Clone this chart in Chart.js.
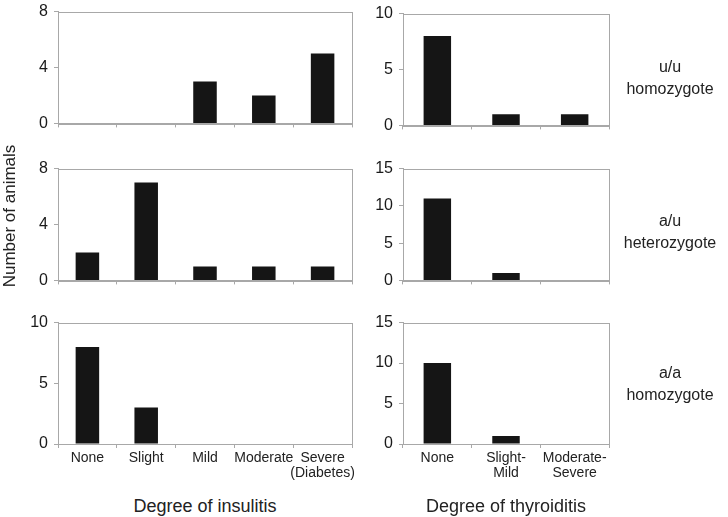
<!DOCTYPE html>
<html>
<head>
<meta charset="utf-8">
<script src="https://cdn.jsdelivr.net/npm/chart.js@4"></script>
<style>
  body { margin: 0; background: #fff; }
  #wrap { position: relative; width: 728px; height: 517px; overflow: hidden;
          font-family: "Liberation Sans", Arial, sans-serif; color: #222; }
  canvas { position: absolute; }
  .txt { position: absolute; text-align: center; white-space: nowrap; }
  .row { left: 610px; width: 120px; font-size: 16px; line-height: 22px; }
  .xtitle { font-size: 18px; }
</style>
</head>
<body>
<div id="wrap">
  <canvas id="c1"></canvas><canvas id="c2"></canvas>
  <canvas id="c3"></canvas><canvas id="c4"></canvas>
  <canvas id="c5"></canvas><canvas id="c6"></canvas>

  <div class="txt" style="left:-70px; top:206px; width:160px; font-size:17px; transform:rotate(-90deg);">Number of animals</div>
  <div class="txt row" style="top:56px;">u/u<br>homozygote</div>
  <div class="txt row" style="top:210px;">a/u<br>heterozygote</div>
  <div class="txt row" style="top:362px;">a/a<br>homozygote</div>
  <div class="txt xtitle" style="left:105px; width:200px; top:496px;">Degree of insulitis</div>
  <div class="txt xtitle" style="left:406px; width:200px; top:496px;">Degree of thyroiditis</div>
</div>
<script>
// categories
const insulitisLabels = ["None", "Slight", "Mild", "Moderate", ["Severe", "(Diabetes)"]];
const thyroiditisLabels = ["None", ["Slight-", "Mild"], ["Moderate-", "Severe"]];

// number of animals per genotype
const insulitisUU = [0, 0, 3, 2, 5];
const insulitisAU = [2, 7, 1, 1, 1];
const insulitisAA = [8, 3, 0, 0, 0];
const thyroiditisUU = [8, 1, 1];
const thyroiditisAU = [11, 1, 0];
const thyroiditisAA = [10, 1, 0];

// y axis ranges [max, step]
const yInsUU = [8, 4], yInsAU = [8, 4], yInsAA = [10, 5];
const yThyUU = [10, 5], yThyAU = [15, 5], yThyAA = [15, 5];

const FONT = '"Liberation Sans", Arial, sans-serif';
const GRAY = "#a8a8a8";
const YW = 50, PT = 14, PR = 16;

// box around the plot area
const frame = {
  id: "frame",
  afterDraw(chart) {
    const a = chart.chartArea, ctx = chart.ctx;
    ctx.save();
    ctx.strokeStyle = GRAY;
    ctx.lineWidth = 1;
    ctx.strokeRect(Math.round(a.left) + 0.5, Math.round(a.top) + 0.5,
                   Math.round(a.right - a.left), Math.round(a.bottom - a.top));
    ctx.restore();
  }
};

function panel(id, left, top, w, labels, values, yr, bottomRow) {
  const xh = bottomRow ? 42 : 6;
  const cv = document.getElementById(id);
  cv.width = w + YW + PR;
  cv.height = 123 + PT + xh;
  cv.style.left = (left - YW) + "px";
  cv.style.top = (top - PT) + "px";
  new Chart(cv, {
    type: "bar",
    data: {
      labels,
      datasets: [{ data: values, backgroundColor: "#151515", borderColor: "#000", borderWidth: 0,
                   categoryPercentage: 1, barPercentage: 0.4 }]
    },
    options: {
      responsive: false,
      animation: false,
      devicePixelRatio: 1,
      layout: { padding: { top: PT, right: PR, left: 0, bottom: 0 } },
      plugins: { legend: { display: false }, tooltip: { enabled: false } },
      scales: {
        x: {
          grid: { drawOnChartArea: false, drawTicks: true, tickLength: 4, color: GRAY, offset: true },
          border: { color: GRAY },
          ticks: { display: bottomRow, color: "#222", padding: 3, maxRotation: 0, autoSkip: false,
                   font: { family: FONT, size: 14, lineHeight: 1.05 } },
          afterFit: s => { s.height = xh; }
        },
        y: {
          min: 0, max: yr[0],
          grid: { drawOnChartArea: false, drawTicks: true, tickLength: 4, color: GRAY },
          border: { color: GRAY },
          ticks: { stepSize: yr[1], color: "#1a1a1a", padding: 6, font: { family: FONT, size: 16 } },
          afterFit: s => { s.width = YW; }
        }
      }
    },
    plugins: [frame]
  });
}

panel("c1", 58, 10, 294, insulitisLabels, insulitisUU, yInsUU, false);
panel("c3", 58, 167, 294, insulitisLabels, insulitisAU, yInsAU, false);
panel("c5", 58, 321, 294, insulitisLabels, insulitisAA, yInsAA, true);
panel("c2", 403, 12, 206, thyroiditisLabels, thyroiditisUU, yThyUU, false);
panel("c4", 403, 167, 206, thyroiditisLabels, thyroiditisAU, yThyAU, false);
panel("c6", 403, 321, 206, thyroiditisLabels, thyroiditisAA, yThyAA, true);
</script>
</body>
</html>
